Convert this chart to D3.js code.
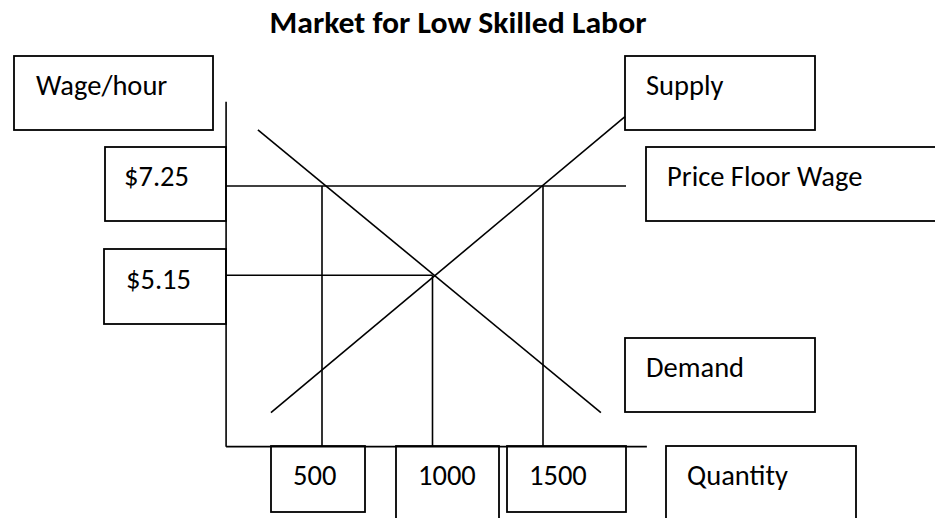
<!DOCTYPE html>
<html>
<head>
<meta charset="utf-8">
<script src="https://cdn.jsdelivr.net/npm/d3@7"></script>
<style>
  html, body { margin: 0; padding: 0; background: #fff; }
  svg { display: block; }
  text { font-family: Carlito, Lato, "Open Sans", sans-serif; fill: #000; }
</style>
</head>
<body>
<svg id="chart" width="935" height="518"></svg>
<script>
// ---------- data ----------
const title = "Market for Low Skilled Labor";
const yAxisLabel = "Wage/hour";
const xAxisLabel = "Quantity";
const wageTicks = [7.25, 5.15];
const wageTickLabels = ["$7.25", "$5.15"];
const quantityTicks = [500, 1000, 1500];
const quantityTickLabels = ["500", "1000", "1500"];
const priceFloor = 7.25;
const equilibrium = { q: 1000, w: 5.15 };
const demandPoints = [{ q: 210, w: 8.57 }, { q: 1762, w: 1.92 }];
const supplyPoints = [{ q: 269, w: 1.92 }, { q: 1871, w: 8.88 }];
const axisExtentQ = [66, 1970];
const axisExtentW = [1.12, 9.23];
const curveLabels = ["Supply", "Price Floor Wage", "Demand"];

// ---------- layout ----------
const svg = d3.select("#chart");
const x = d3.scaleLinear().domain([500, 1500]).range([322, 543]);
const y = d3.scaleLinear().domain([5.15, 7.25]).range([275.3, 186]);

const lineW = 1.6;
const boxW = 1.8;
const fontSize = 28.5;

const g = svg.append("g");

// title
g.append("text")
  .attr("x", 458).attr("y", 33)
  .attr("text-anchor", "middle")
  .style("font-weight", "bold")
  .style("font-size", "30px")
  .attr("textLength", 377)
  .attr("lengthAdjust", "spacingAndGlyphs")
  .text(title);

// annotation boxes (layout only)
const boxes = [
  { text: yAxisLabel, x0: 14, y0: 56, x1: 213, y1: 130, tx: 36, ty: 95 },
  { text: wageTickLabels[0], x0: 105, y0: 147, x1: 226, y1: 221, tx: 124, ty: 186 },
  { text: wageTickLabels[1], x0: 104, y0: 249, x1: 226, y1: 324, tx: 126, ty: 289 },
  { text: curveLabels[0], x0: 625, y0: 56, x1: 815, y1: 130, tx: 646, ty: 95 },
  { text: curveLabels[1], x0: 646, y0: 147, x1: 945, y1: 221, tx: 667, ty: 186 },
  { text: curveLabels[2], x0: 625, y0: 338, x1: 815, y1: 412, tx: 646, ty: 377 },
  { text: quantityTickLabels[0], x0: 271, y0: 446, x1: 365, y1: 512, tx: 293, ty: 485 },
  { text: quantityTickLabels[1], x0: 396, y0: 446, x1: 499, y1: 530, tx: 418, ty: 485 },
  { text: quantityTickLabels[2], x0: 507, y0: 446, x1: 626, y1: 512, tx: 529, ty: 485 },
  { text: xAxisLabel, x0: 666, y0: 446, x1: 856, y1: 530, tx: 687, ty: 485 }
];

const bg = g.append("g").attr("class", "boxes");
bg.selectAll("rect").data(boxes).join("rect")
  .attr("x", d => d.x0).attr("y", d => d.y0)
  .attr("width", d => d.x1 - d.x0).attr("height", d => d.y1 - d.y0)
  .attr("fill", "#fff").attr("stroke", "#000").attr("stroke-width", boxW);
bg.selectAll("text").data(boxes).join("text")
  .attr("x", d => d.tx).attr("y", d => d.ty)
  .style("font-size", fontSize + "px")
  .text(d => d.text);

// axes
const lines = g.append("g").attr("stroke", "#000").attr("stroke-width", lineW).attr("fill", "none");
lines.append("line")
  .attr("x1", x(axisExtentQ[0])).attr("x2", x(axisExtentQ[0]))
  .attr("y1", y(axisExtentW[1])).attr("y2", y(axisExtentW[0]));
lines.append("line")
  .attr("x1", x(axisExtentQ[0])).attr("x2", x(axisExtentQ[1]))
  .attr("y1", y(axisExtentW[0])).attr("y2", y(axisExtentW[0]));

// price floor line
lines.append("line")
  .attr("x1", x(axisExtentQ[0])).attr("x2", 626)
  .attr("y1", y(priceFloor)).attr("y2", y(priceFloor));
// equilibrium wage line
lines.append("line")
  .attr("x1", x(axisExtentQ[0])).attr("x2", x(equilibrium.q))
  .attr("y1", y(equilibrium.w)).attr("y2", y(equilibrium.w));

// verticals at quantity ticks
const tickTops = [priceFloor, equilibrium.w, priceFloor];
quantityTicks.forEach((q, i) => {
  lines.append("line")
    .attr("x1", x(q)).attr("x2", x(q))
    .attr("y1", y(tickTops[i])).attr("y2", y(axisExtentW[0]));
});

// demand & supply
const lineGen = d3.line().x(d => x(d.q)).y(d => y(d.w));
lines.append("path").attr("d", lineGen(demandPoints));
lines.append("path").attr("d", lineGen(supplyPoints));
</script>
</body>
</html>
